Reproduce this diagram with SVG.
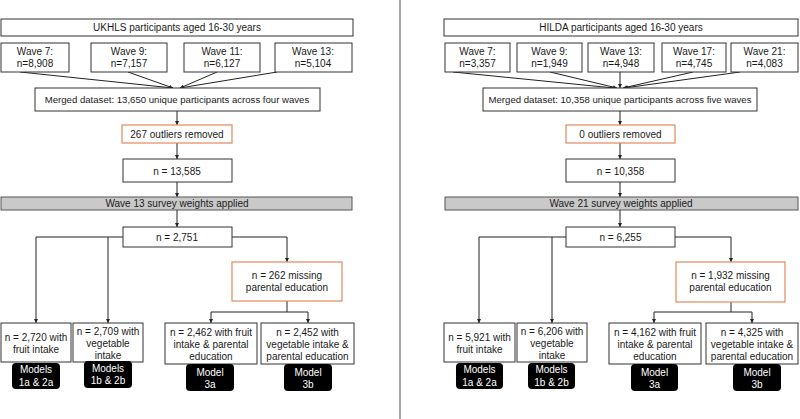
<svg xmlns="http://www.w3.org/2000/svg" width="800" height="419" viewBox="0 0 800 419">
<defs>
<style>
.b{fill:#fff;stroke:#333;stroke-width:1}
.o{fill:#fff;stroke:#E08A5E;stroke-width:1.2}
.g{fill:#C9C9C9;stroke:#555;stroke-width:1}
.k{fill:#000}
text{font-family:"Liberation Sans",Arial,sans-serif;font-size:10px;fill:#1a1a1a;text-anchor:middle}
.w{fill:#fff}
.m{font-size:9.6px}
.c{fill:none;stroke:#222;stroke-width:1}
</style>
<marker id="a" viewBox="0 0 6 6" refX="6" refY="3" markerWidth="4" markerHeight="4" markerUnits="userSpaceOnUse" orient="auto"><path d="M0,0L6,3L0,6z" fill="#222"/></marker>
</defs>
<rect width="800" height="419" fill="#fff"/>
<line x1="400" y1="0" x2="400" y2="419" stroke="#888" stroke-width="1.5"/>

<g id="connectors" class="c">
<path class="c" d="M20,72L173,88" marker-end="url(#a)"/>
<path class="c" d="M128,72L173,88" marker-end="url(#a)"/>
<path class="c" d="M217,72L180,88" marker-end="url(#a)"/>
<path class="c" d="M277,72L180,88" marker-end="url(#a)"/>
<path class="c" d="M177,111V125" marker-end="url(#a)"/>
<path class="c" d="M177,143V159" marker-end="url(#a)"/>
<path class="c" d="M177,182V197" marker-end="url(#a)"/>
<path class="c" d="M177,210V227" marker-end="url(#a)"/>
<path class="c" d="M123,237H36V323" marker-end="url(#a)"/>
<path class="c" d="M108,237V323" marker-end="url(#a)"/>
<path class="c" d="M232,237H287V262" marker-end="url(#a)"/>
<path class="c" d="M287,301V312"/>
<path class="c" d="M287,312H211V323" marker-end="url(#a)"/>
<path class="c" d="M287,312H308V323" marker-end="url(#a)"/>

<path class="c" d="M453,72L614,88" marker-end="url(#a)"/>
<path class="c" d="M550,72L617,88" marker-end="url(#a)"/>
<path class="c" d="M620,72V88" marker-end="url(#a)"/>
<path class="c" d="M693,72L623,88" marker-end="url(#a)"/>
<path class="c" d="M740,72L624,88" marker-end="url(#a)"/>
<path class="c" d="M620,111V125" marker-end="url(#a)"/>
<path class="c" d="M620,143V159" marker-end="url(#a)"/>
<path class="c" d="M620,182V197" marker-end="url(#a)"/>
<path class="c" d="M620,210V227" marker-end="url(#a)"/>
<path class="c" d="M566,237H479V323" marker-end="url(#a)"/>
<path class="c" d="M552,237V323" marker-end="url(#a)"/>
<path class="c" d="M675,237H731V262" marker-end="url(#a)"/>
<path class="c" d="M731,302V312"/>
<path class="c" d="M731,312H654V323" marker-end="url(#a)"/>
<path class="c" d="M731,312H752V323" marker-end="url(#a)"/>
</g>

<!-- Left panel -->
<g id="ukhls-title"><rect class="b" x="1" y="19" width="352" height="17"/><text x="177" y="31">UKHLS participants aged 16-30 years</text></g>
<g id="uk-w7"><rect class="b" x="1" y="43" width="68" height="29"/><text x="35" y="55">Wave 7:</text><text x="35" y="67">n=8,908</text></g>
<g id="uk-w9"><rect class="b" x="91" y="43" width="76" height="29"/><text x="129" y="55">Wave 9:</text><text x="129" y="67">n=7,157</text></g>
<g id="uk-w11"><rect class="b" x="184" y="43" width="76" height="29"/><text x="222" y="55">Wave 11:</text><text x="222" y="67">n=6,127</text></g>
<g id="uk-w13"><rect class="b" x="275" y="43" width="77" height="29"/><text x="313" y="55">Wave 13:</text><text x="313" y="67">n=5,104</text></g>
<g id="uk-merged"><rect class="b" x="35" y="88" width="285" height="23"/><text class="m" x="177" y="103">Merged dataset: 13,650 unique participants across four waves</text></g>
<g id="uk-outliers"><rect class="o" x="122" y="125" width="110" height="18"/><text x="177" y="138">267 outliers removed</text></g>
<g id="uk-n1"><rect class="b" x="123" y="159" width="109" height="23"/><text x="177" y="174.5">n = 13,585</text></g>
<g id="uk-weights"><rect class="g" x="1" y="197" width="351" height="13"/><text x="177" y="207">Wave 13 survey weights applied</text></g>
<g id="uk-n2"><rect class="b" x="123" y="227" width="109" height="20"/><text x="177" y="240.5">n = 2,751</text></g>
<g id="uk-missing"><rect class="o" x="232" y="262" width="110" height="39"/><text x="287" y="278.5">n = 262 missing</text><text x="287" y="290.5">parental education</text></g>
<g id="uk-fruit"><rect class="b" x="1" y="323" width="70" height="39"/><text x="36" y="340.5">n = 2,720 with</text><text x="36" y="352.5">fruit intake</text></g>
<g id="uk-veg"><rect class="b" x="73" y="323" width="70" height="39"/><text x="108" y="334.5">n = 2,709 with</text><text x="108" y="346.5">vegetable</text><text x="108" y="358.5">intake</text></g>
<g id="uk-fruit-pe"><rect class="b" x="165" y="323" width="92" height="41"/><text x="211" y="335.5">n = 2,462 with fruit</text><text x="211" y="347.5">intake &amp; parental</text><text x="211" y="359.5">education</text></g>
<g id="uk-veg-pe"><rect class="b" x="261" y="323" width="93" height="41"/><text x="307.5" y="335.5">n = 2,452 with</text><text x="307.5" y="347.5">vegetable intake &amp;</text><text x="307.5" y="359.5">parental education</text></g>
<g id="uk-m1a"><rect class="k" x="12" y="363" width="48" height="26" rx="4"/><text class="w" x="36" y="372.5">Models</text><text class="w" x="36" y="385.5">1a &amp; 2a</text></g>
<g id="uk-m1b"><rect class="k" x="84" y="361" width="48" height="27" rx="4"/><text class="w" x="108" y="371.5">Models</text><text class="w" x="108" y="383.5">1b &amp; 2b</text></g>
<g id="uk-m3a"><rect class="k" x="186" y="364" width="48" height="27" rx="4"/><text class="w" x="210" y="375.5">Model</text><text class="w" x="210" y="387.5">3a</text></g>
<g id="uk-m3b"><rect class="k" x="284" y="364" width="48" height="27" rx="4"/><text class="w" x="308" y="375.5">Model</text><text class="w" x="308" y="387.5">3b</text></g>

<!-- Right panel -->
<g id="hilda-title"><rect class="b" x="444" y="19" width="354" height="17"/><text x="621" y="31">HILDA participants aged 16-30 years</text></g>
<g id="hi-w7"><rect class="b" x="445" y="43" width="65" height="29"/><text x="477.5" y="55">Wave 7:</text><text x="477.5" y="67">n=3,357</text></g>
<g id="hi-w9"><rect class="b" x="517" y="43" width="65" height="29"/><text x="549.5" y="55">Wave 9:</text><text x="549.5" y="67">n=1,949</text></g>
<g id="hi-w13"><rect class="b" x="588" y="43" width="66" height="29"/><text x="621" y="55">Wave 13:</text><text x="621" y="67">n=4,948</text></g>
<g id="hi-w17"><rect class="b" x="662" y="43" width="64" height="29"/><text x="694" y="55">Wave 17:</text><text x="694" y="67">n=4,745</text></g>
<g id="hi-w21"><rect class="b" x="731" y="43" width="67" height="29"/><text x="764.5" y="55">Wave 21:</text><text x="764.5" y="67">n=4,083</text></g>
<g id="hi-merged"><rect class="b" x="483" y="88" width="274" height="23"/><text class="m" x="620" y="103">Merged dataset: 10,358 unique participants across five waves</text></g>
<g id="hi-outliers"><rect class="o" x="566" y="125" width="109" height="18"/><text x="620.5" y="138">0 outliers removed</text></g>
<g id="hi-n1"><rect class="b" x="566" y="159" width="109" height="23"/><text x="620.5" y="174.5">n = 10,358</text></g>
<g id="hi-weights"><rect class="g" x="445" y="197" width="353" height="13"/><text x="621" y="207">Wave 21 survey weights applied</text></g>
<g id="hi-n2"><rect class="b" x="566" y="227" width="109" height="20"/><text x="620.5" y="240.5">n = 6,255</text></g>
<g id="hi-missing"><rect class="o" x="676" y="262" width="109" height="40"/><text x="730.5" y="278.5">n = 1,932 missing</text><text x="730.5" y="290.5">parental education</text></g>
<g id="hi-fruit"><rect class="b" x="444" y="323" width="71" height="39"/><text x="479.5" y="340.5">n = 5,921 with</text><text x="479.5" y="352.5">fruit intake</text></g>
<g id="hi-veg"><rect class="b" x="517" y="323" width="70" height="39"/><text x="552" y="334.5">n = 6,206 with</text><text x="552" y="346.5">vegetable</text><text x="552" y="358.5">intake</text></g>
<g id="hi-fruit-pe"><rect class="b" x="609" y="323" width="92" height="41"/><text x="655" y="335.5">n = 4,162 with fruit</text><text x="655" y="347.5">intake &amp; parental</text><text x="655" y="359.5">education</text></g>
<g id="hi-veg-pe"><rect class="b" x="706" y="323" width="92" height="41"/><text x="752" y="335.5">n = 4,325 with</text><text x="752" y="347.5">vegetable intake &amp;</text><text x="752" y="359.5">parental education</text></g>
<g id="hi-m1a"><rect class="k" x="456" y="363" width="47" height="26" rx="4"/><text class="w" x="479.5" y="372.5">Models</text><text class="w" x="479.5" y="385.5">1a &amp; 2a</text></g>
<g id="hi-m1b"><rect class="k" x="528" y="363" width="47" height="26" rx="4"/><text class="w" x="551.5" y="372.5">Models</text><text class="w" x="551.5" y="385.5">1b &amp; 2b</text></g>
<g id="hi-m3a"><rect class="k" x="631" y="364" width="47" height="27" rx="4"/><text class="w" x="654.5" y="375.5">Model</text><text class="w" x="654.5" y="387.5">3a</text></g>
<g id="hi-m3b"><rect class="k" x="733" y="364" width="48" height="27" rx="4"/><text class="w" x="757" y="375.5">Model</text><text class="w" x="757" y="387.5">3b</text></g>
</svg>
